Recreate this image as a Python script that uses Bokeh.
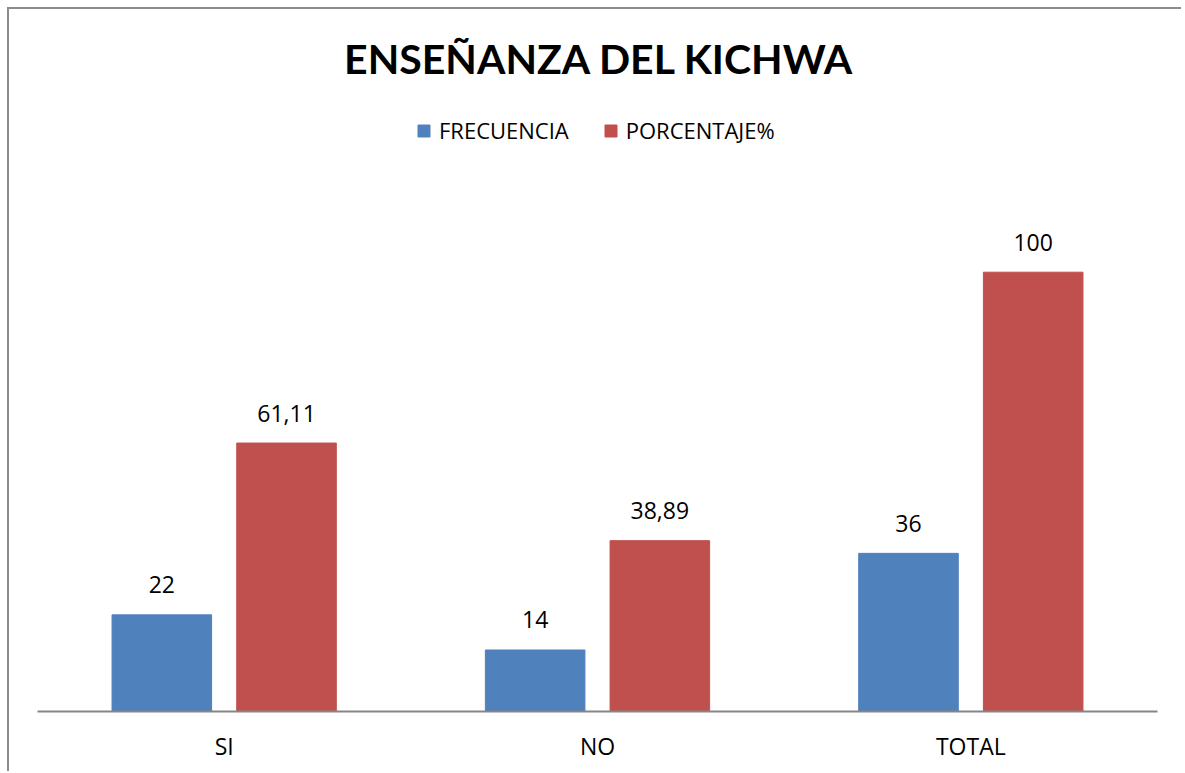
from bokeh.plotting import figure
from bokeh.models import ColumnDataSource, FactorRange, Range1d, Legend, LegendItem, Label
from bokeh.core.properties import value
from bokeh.transform import dodge
from bokeh.embed import file_html
from bokeh.resources import INLINE

categories = ["SI", "NO", "TOTAL"]
frecuencia = [22, 14, 36]
porcentaje = [61.11, 38.89, 100]
series_names = ["FRECUENCIA", "PORCENTAJE%"]
title_text = "ENSEÑANZA DEL KICHWA"

def fmt(v):
    return ("%g" % v).replace(".", ",")

src = ColumnDataSource(dict(
    cat=categories,
    f=frecuencia,
    p=porcentaje,
    fl=[fmt(v) for v in frecuencia],
    pl=[fmt(v) for v in porcentaje],
))

FONT = "Open Sans"
BLUE = "#4F81BD"
RED = "#C0504D"

W, H = 1174, 764
BL, BR, BT, BB = 28, 26, 0, 62
frame_w = W - BL - BR
frame_h = H - BT - BB

p = figure(x_range=FactorRange(*categories, range_padding=0), y_range=Range1d(0, 159.8),
           width=W, height=H, output_backend="svg", toolbar_location=None,
           min_border_left=BL, min_border_right=BR, min_border_top=BT, min_border_bottom=BB)
p.styles = {"margin-left": "7px", "margin-top": "7px",
            "border-left": "2px solid #8c8c8c", "border-top": "2px solid #8c8c8c"}

bw = 0.2667
r1 = p.vbar(x=dodge("cat", -0.167, range=p.x_range), top="f", width=bw, source=src,
            fill_color=BLUE, line_color=BLUE)
r2 = p.vbar(x=dodge("cat", 0.167, range=p.x_range), top="p", width=bw, source=src,
            fill_color=RED, line_color=RED)

p.text(x=dodge("cat", -0.167, range=p.x_range), y="f", text="fl", source=src,
       text_align="center", text_baseline="alphabetic", y_offset=-30,
       text_font=value(FONT), text_font_size="23px", text_color="#000000")
p.text(x=dodge("cat", 0.167, range=p.x_range), y="p", text="pl", source=src,
       text_align="center", text_baseline="alphabetic", y_offset=-30,
       text_font=value(FONT), text_font_size="23px", text_color="#000000")

title = Label(x=562, y=653, x_units="screen", y_units="screen",
              text=title_text, text_align="center", text_baseline="alphabetic",
              text_font="Lato", text_font_size="41px", text_font_style="bold",
              text_color="#000000")
p.add_layout(title)

legend = Legend(items=[LegendItem(label=series_names[0], renderers=[r1]),
                       LegendItem(label=series_names[1], renderers=[r2])],
                orientation="horizontal", location=(379, 566),
                padding=0, margin=0,
                label_text_font=FONT, label_text_font_size="22px",
                label_text_color="#000000",
                glyph_width=15, glyph_height=15, spacing=34, label_standoff=8,
                border_line_color=None, background_fill_alpha=0)
p.add_layout(legend, "center")

p.yaxis.visible = False
p.xgrid.visible = False
p.ygrid.visible = False
p.outline_line_color = None
p.xaxis.axis_line_color = "#868686"
p.xaxis.axis_line_width = 2
p.xaxis.major_tick_line_color = None
p.xaxis.minor_tick_line_color = None
p.xaxis.major_label_text_font = FONT
p.xaxis.major_label_text_font_size = "23px"
p.xaxis.major_label_text_color = "#000000"
p.xaxis.major_label_standoff = 12

open("out.html", "w").write(file_html(p, INLINE))
